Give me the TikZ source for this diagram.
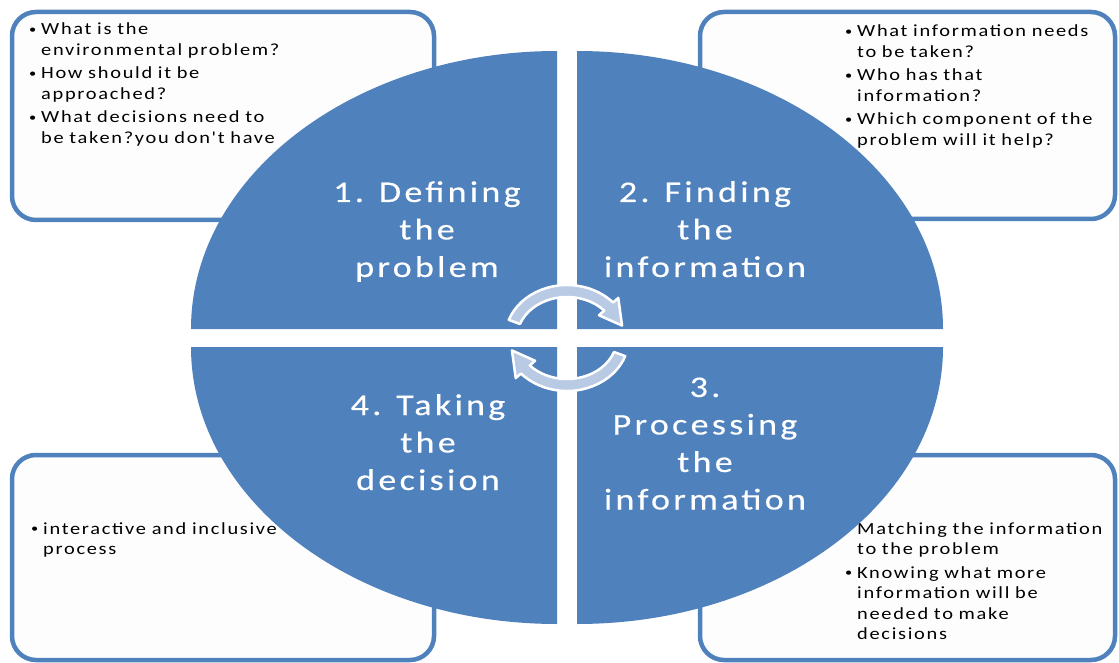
\documentclass[tikz,border=0pt]{standalone}
\usepackage{fontspec}
\usetikzlibrary{calc}
\newfontfamily\bigf[FakeStretch=1.2,LetterSpace=11,FakeBold=0.3]{Carlito}
\newfontfamily\smf[FakeStretch=1.2,LetterSpace=10,WordSpace=0.6]{Carlito}
\definecolor{qblue}{RGB}{79,129,189}
\definecolor{afill}{RGB}{185,203,228}
\definecolor{boxfill}{RGB}{253,253,253}
\newcommand{\bul}{\leavevmode\llap{{\fontsize{12}{12}\selectfont\raisebox{1.5pt}{•}}\hspace{5pt}}}
\tikzset{
  infobox/.style={draw=qblue,line width=4.5pt,fill=boxfill,rounded corners=24pt},
  quad/.style={fill=qblue},
  bigtxt/.style={text=white,font=\bigf\fontsize{30}{37.5}\selectfont,align=center,text width=300pt,inner sep=0pt,anchor=base},
  smtxt/.style={text=black,font=\smf\fontsize{17}{20.5}\selectfont\setlength{\parskip}{3pt},align=left,text width=280pt,inner sep=0pt,anchor=base west},
  cyc/.style={fill=afill,draw=white,line width=2.5pt,line join=round}
}
\begin{document}
\begin{tikzpicture}[x=1pt,y=-1pt]
\useasboundingbox (0,0) rectangle (1119,663);
% boxes
\draw[infobox] (12,12) rectangle (434,220);
\draw[infobox] (700,12) rectangle (1115,219);
\draw[infobox] (12,455) rectangle (434,660);
\draw[infobox] (700,455) rectangle (1115,660);
% box texts
\node[smtxt] (t1) at (41,35) {\bul What is the\\environmental problem?\par\bul How should it be\\approached?\par\bul What decisions need to\\be taken?you don't have};
\node[smtxt] (t2) at (857,37) {\bul What information needs\\to be taken?\par\bul Who has that\\information?\par\bul Which component of the\\problem will it help?};
\node[smtxt] (t4) at (43,534) {\bul interactive and inclusive\\process};
\node[smtxt] (t3) at (857,534) {\bul Matching the information\\to the problem\par\bul Knowing what more\\information will be\\needed to make\\decisions};
% quadrants
\fill[quad] (557,329) -- (191,329) arc[start angle=180,end angle=270,x radius=366,y radius=278] -- cycle;
\fill[quad] (577,329) -- (577,51) arc[start angle=270,end angle=360,x radius=366,y radius=278] -- cycle;
\fill[quad] (577,347) -- (943,347) arc[start angle=0,end angle=90,x radius=366,y radius=277] -- cycle;
\fill[quad] (557,347) -- (557,624) arc[start angle=90,end angle=180,x radius=366,y radius=277] -- cycle;
% labels
\node[bigtxt] (l1) at (427,202) {1. Defining\\the\\problem};
\node[bigtxt] (l2) at (705,202) {2. Finding\\the\\information};
\node[bigtxt] (l3) at (705,397) {3.\\Processing\\the\\information};
\node[bigtxt] (l4) at (428,415) {4. Taking\\the\\decision};
% cycle arrows
\coordinate (O) at (567,338);
\draw[cyc] ($(O)+(200:62 and 53)$) arc[start angle=200,end angle=318,x radius=62,y radius=53]
  -- ($(O)+(318:69 and 60)$) -- ($(O)+(345:57 and 48)$) -- ($(O)+(318:43 and 34)$)
  -- ($(O)+(318:50 and 41)$) arc[start angle=318,end angle=200,x radius=50,y radius=41] -- cycle;
\draw[cyc] ($(O)+(20:62 and 53)$) arc[start angle=20,end angle=138,x radius=62,y radius=53]
  -- ($(O)+(138:69 and 60)$) -- ($(O)+(165:57 and 48)$) -- ($(O)+(138:43 and 34)$)
  -- ($(O)+(138:50 and 41)$) arc[start angle=138,end angle=20,x radius=50,y radius=41] -- cycle;
\end{tikzpicture}
\end{document}
